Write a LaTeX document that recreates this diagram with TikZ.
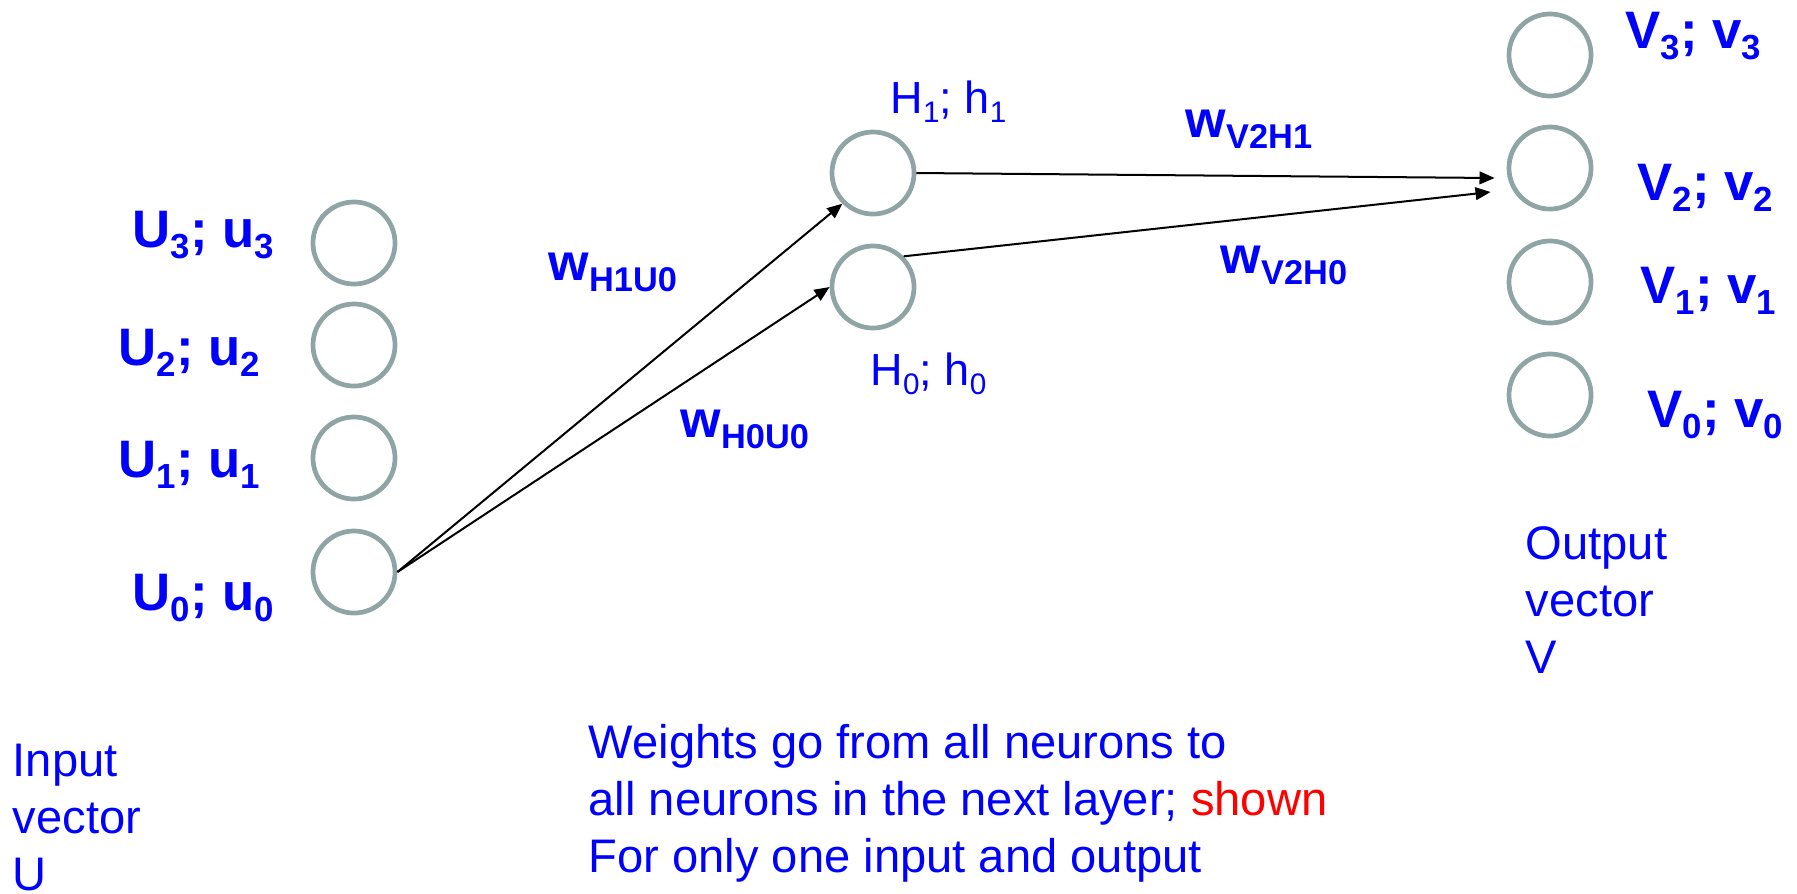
\documentclass[tikz,border=0pt]{standalone}
\usepackage{fontspec}
\setmainfont{Liberation Sans}
\usepackage{graphicx}
\usepackage{tikz}
\usetikzlibrary{arrows.meta,calc}
\definecolor{ringgray}{RGB}{143,164,165}
\definecolor{labelblue}{RGB}{0,0,255}
\newcommand{\lo}[1]{\raisebox{-0.22em}{\scalebox{0.66}{#1}}}
\tikzset{
  neuron/.style={draw=ringgray, circle, line width=1.34pt, minimum size=0.82cm, inner sep=0pt},
  idx/.style={anchor=base west, inner sep=0pt, text=labelblue, font=\fontsize{15}{18}\selectfont\bfseries},
  hidx/.style={anchor=base west, inner sep=0pt, text=labelblue, font=\fontsize{12.8}{15}\selectfont},
  weight/.style={anchor=base west, inner sep=0pt, text=labelblue, font=\fontsize{14.8}{18}\selectfont\bfseries},
  note/.style={anchor=base west, inner sep=0pt, text=labelblue, align=left, font=\fontsize{13.4}{16.2}\selectfont},
  wire/.style={-{Triangle[length=4.3pt,width=3.6pt]}, line width=0.57pt}
}
\begin{document}
\begin{tikzpicture}[x=0.01cm,y=-0.01cm]
  \useasboundingbox (0,0) rectangle (1797,893);
  \foreach \n/\y in {3/243,2/345,1/458,0/572} {\node[neuron] (U\n) at (354,\y) {};}
  \foreach \n/\y in {3/55,2/168,1/282,0/395} {\node[neuron] (V\n) at (1550,\y) {};}
  \node[neuron] (H1) at (873,173) {};
  \node[neuron] (H0) at (873,287) {};
  \foreach \n/\x/\y in {3/132/247,2/118/365,1/118/477,0/132/610} {\node[idx] (Ulbl\n) at (\x,\y) {U\lo{\n}; u\lo{\n}};}
  \foreach \n/\x/\y in {3/1625/48,2/1637/200,1/1640/303,0/1647/427} {\node[idx] (Vlbl\n) at (\x,\y) {V\lo{\n}; v\lo{\n}};}
  \node[hidx] (Hlbl1) at (890,113) {H\lo{1}; h\lo{1}};
  \node[hidx] (Hlbl0) at (870,385) {H\lo{0}; h\lo{0}};
  \node[weight] (wH1U0) at (548,280) {w\lo{H1U0}};
  \node[weight] (wH0U0) at (680,437) {w\lo{H0U0}};
  \node[weight] (wV2H1) at (1185,137) {w\lo{V2H1}};
  \node[weight] (wV2H0) at (1220,273) {w\lo{V2H0}};
  \draw[wire] (U0.east) -- (H1.south west);
  \draw[wire] (U0.east) -- (H0.west);
  \draw[wire] (H1.east) -- ($(V2.west)+(-12,10)$);
  \draw[wire] (H0.north east) -- ($(V2.west)+(-16,24)$);
  \node[note] (inlbl) at (12,890) {Input\\vector\\U};
  \node[note] (outlbl) at (1525,673) {Output\\vector\\V};
  \node[note] (notelbl) at (588,872) {Weights go from all neurons to\\all neurons in the next layer; \textcolor{red}{shown}\\For only one input and output};
\end{tikzpicture}
\end{document}
